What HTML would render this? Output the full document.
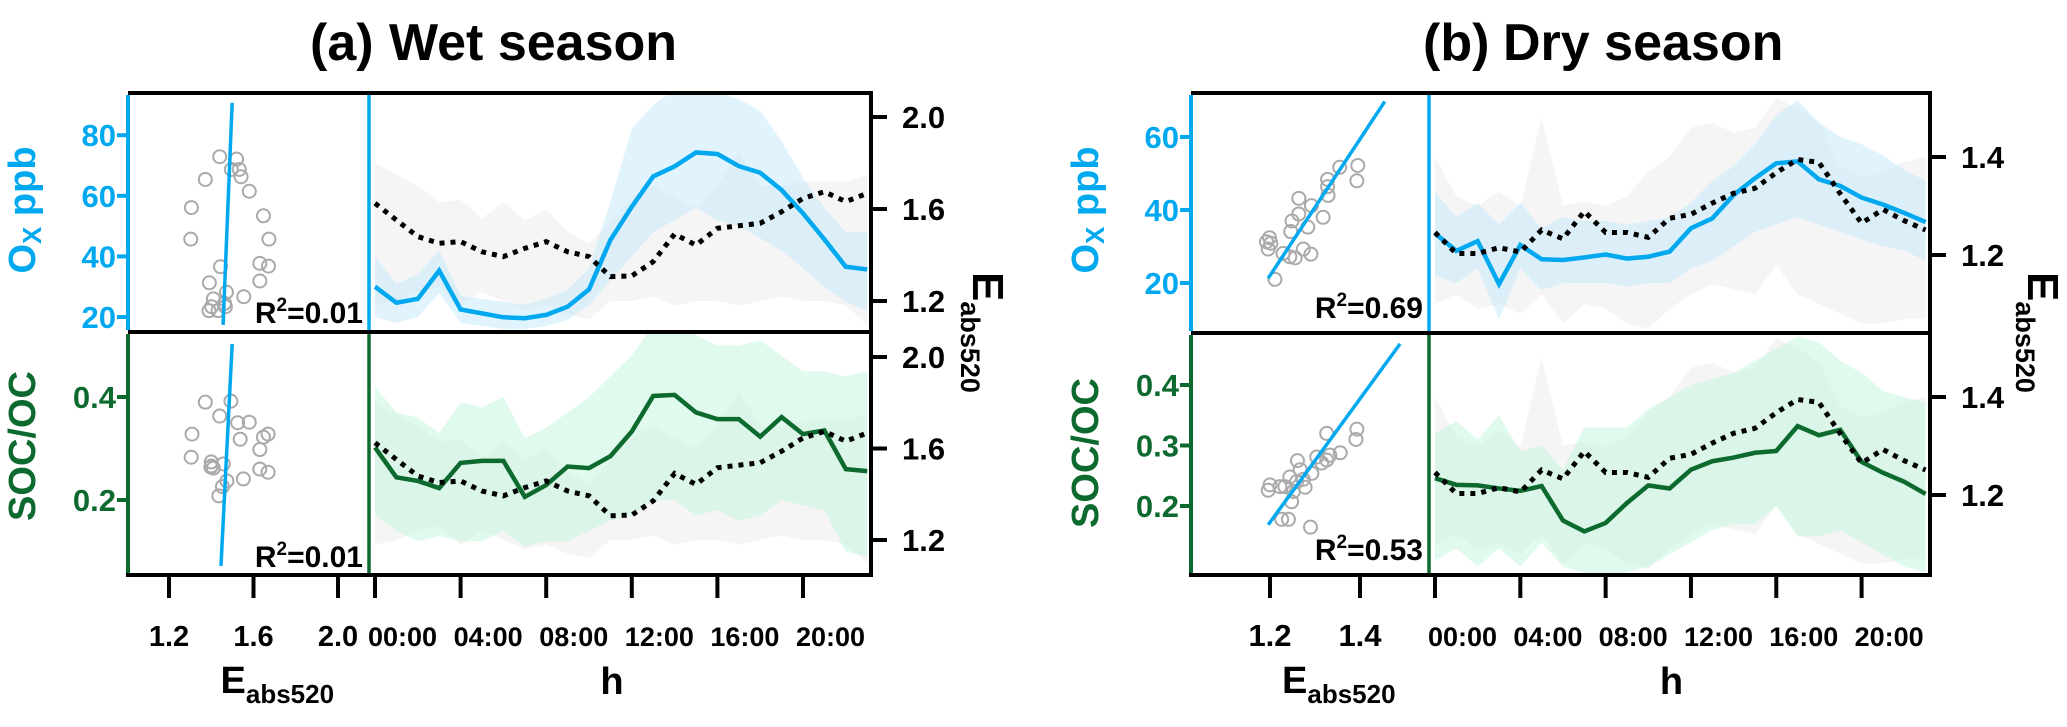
<!DOCTYPE html>
<html><head><meta charset="utf-8"><style>
html,body{margin:0;padding:0;background:#fff;}
svg{display:block;font-family:"Liberation Sans",Arial,sans-serif;}
</style></head><body>
<svg id="chart" width="2067" height="727" viewBox="0 0 2067 727" xmlns="http://www.w3.org/2000/svg">
<defs>
<clipPath id="cA1"><rect x="369" y="93" width="502" height="239"/></clipPath>
<clipPath id="cA2"><rect x="369" y="332" width="502" height="243"/></clipPath>
<clipPath id="cB1"><rect x="1429" y="93" width="501" height="240"/></clipPath>
<clipPath id="cB2"><rect x="1429" y="333" width="501" height="242"/></clipPath>
</defs>
<text x="310" y="60" font-size="52" font-weight="bold">(a)</text>
<text x="389" y="60" font-size="52" font-weight="bold">Wet season</text>
<text x="1423" y="60" font-size="52" font-weight="bold">(b)</text>
<text x="1503" y="60" font-size="52" font-weight="bold">Dry season</text>
</svg>
<script>
const hours = [0,1,2,3,4,5,6,7,8,9,10,11,12,13,14,15,16,17,18,19,20,21,22,23];
const hourTicks = [0,4,8,12,16,20];
const hourTickLabels = ['00:00','04:00','08:00','12:00','16:00','20:00'];

// Wet season
const wetOx = [30.0,24.7,26.0,35.3,22.5,21.2,19.9,19.6,20.7,23.4,29.1,45.4,56.4,66.4,69.7,74.3,73.8,69.8,67.6,61.9,54.2,45.6,36.6,35.7];
const wetOxHi = [40,31,34,42,27,26,25,24,26,29,36,58,82,90,95,96,94,92,88,78,66,56,48,48];
const wetOxLo = [20,18,20,28,18,17,16,16,17,19,24,32,40,48,52,56,52,50,46,42,36,30,25,22];
const wetEabs = [1.625,1.552,1.480,1.451,1.458,1.414,1.393,1.429,1.458,1.414,1.393,1.306,1.309,1.371,1.491,1.443,1.516,1.527,1.538,1.588,1.646,1.675,1.632,1.668];
const wetEabsHi = [1.80,1.75,1.70,1.63,1.64,1.56,1.63,1.55,1.60,1.50,1.45,1.55,1.65,1.70,1.65,1.60,1.70,1.85,1.70,1.70,1.72,1.72,1.72,1.75];
const wetEabsLo = [1.18,1.20,1.24,1.26,1.18,1.24,1.20,1.16,1.18,1.14,1.12,1.20,1.20,1.22,1.18,1.20,1.20,1.18,1.20,1.22,1.20,1.20,1.18,1.10];
const wetSoc = [0.302,0.244,0.237,0.223,0.272,0.276,0.276,0.206,0.229,0.265,0.262,0.285,0.333,0.402,0.404,0.370,0.357,0.357,0.323,0.361,0.328,0.335,0.260,0.256];
const wetSocHi = [0.42,0.37,0.36,0.33,0.39,0.38,0.40,0.32,0.34,0.37,0.40,0.44,0.48,0.54,0.54,0.52,0.50,0.50,0.51,0.48,0.45,0.45,0.44,0.45];
const wetSocLo = [0.17,0.14,0.12,0.13,0.12,0.12,0.14,0.11,0.12,0.12,0.14,0.16,0.17,0.20,0.20,0.17,0.18,0.16,0.17,0.20,0.19,0.18,0.10,0.09];
const wetScatE1 = [1.440,1.520,1.495,1.533,1.541,1.372,1.580,1.306,1.647,1.303,1.673,1.444,1.630,1.671,1.391,1.630,1.472,1.554,1.410,1.463,1.402,1.389,1.432,1.467];
const wetScatOx = [72.9,72.1,68.7,68.7,66.3,65.4,61.5,56.1,53.4,45.7,45.7,36.6,37.7,36.8,31.3,31.9,28.2,26.7,26.0,24.5,23.4,22.1,22.1,23.4];
const wetScatE2 = [1.372,1.493,1.440,1.525,1.580,1.309,1.669,1.647,1.537,1.630,1.305,1.400,1.457,1.398,1.630,1.669,1.552,1.474,1.453,1.436,1.410,1.400];
const wetScatSoc = [0.390,0.392,0.363,0.350,0.351,0.328,0.328,0.322,0.318,0.298,0.283,0.274,0.270,0.264,0.260,0.254,0.241,0.237,0.226,0.208,0.262,0.266];
const wetFitOxE = [1.456,1.499];
const wetFitOx = [17.4,90.7];
const wetFitSocE = [1.446,1.499];
const wetFitSoc = [0.072,0.503];

// Dry season
const dryOx = [33.6,28.8,31.5,19.7,30.4,26.5,26.3,27.0,27.8,26.7,27.2,28.6,35.0,37.7,44.1,48.7,52.8,53.3,48.4,46.6,43.4,41.5,39.2,36.7];
const dryOxHi = [45,38,42,36,42,35,38,37,37,36,37,38,42,48,52,58,66,70,64,60,58,55,51,48];
const dryOxLo = [22,20,24,10,24,18,20,20,20,19,20,20,24,26,30,34,36,38,36,34,32,30,29,26];
const dryEabs = [1.246,1.203,1.203,1.215,1.206,1.251,1.233,1.289,1.246,1.246,1.236,1.275,1.283,1.306,1.326,1.336,1.368,1.395,1.389,1.325,1.265,1.293,1.270,1.251];
const dryEabsHi = [1.40,1.32,1.30,1.33,1.30,1.48,1.30,1.31,1.30,1.32,1.37,1.40,1.46,1.47,1.45,1.46,1.52,1.50,1.47,1.38,1.36,1.37,1.39,1.40];
const dryEabsLo = [1.10,1.12,1.09,1.10,1.08,1.12,1.06,1.10,1.09,1.06,1.05,1.09,1.12,1.14,1.13,1.12,1.18,1.12,1.10,1.08,1.06,1.06,1.07,1.07];
const drySoc = [0.246,0.235,0.234,0.229,0.225,0.233,0.176,0.158,0.172,0.205,0.234,0.229,0.260,0.274,0.280,0.288,0.291,0.332,0.317,0.326,0.273,0.255,0.240,0.220];
const drySocHi = [0.32,0.34,0.31,0.35,0.29,0.30,0.26,0.33,0.33,0.33,0.36,0.38,0.40,0.41,0.42,0.44,0.46,0.48,0.47,0.44,0.42,0.39,0.38,0.37];
const drySocLo = [0.11,0.13,0.10,0.13,0.10,0.14,0.10,0.09,0.09,0.09,0.10,0.12,0.14,0.16,0.17,0.17,0.20,0.15,0.15,0.16,0.14,0.12,0.10,0.09];
const dryScatE1 = [1.395,1.355,1.393,1.328,1.328,1.329,1.264,1.292,1.264,1.249,1.284,1.318,1.246,1.199,1.192,1.202,1.196,1.274,1.229,1.244,1.256,1.291,1.211];
const dryScatOx = [52.2,51.7,48.0,48.4,46.4,44.0,43.2,41.2,38.9,37.0,35.3,38.0,34.1,32.4,31.3,30.9,29.3,29.3,28.1,27.2,26.9,27.9,21.0];
const dryScatE2 = [1.393,1.326,1.391,1.356,1.333,1.326,1.315,1.261,1.244,1.293,1.274,1.259,1.233,1.200,1.196,1.222,1.278,1.252,1.248,1.226,1.241,1.290,1.304,1.267];
const dryScatSoc = [0.327,0.320,0.310,0.288,0.284,0.276,0.271,0.275,0.248,0.254,0.244,0.240,0.232,0.235,0.226,0.232,0.231,0.224,0.207,0.178,0.178,0.165,0.281,0.260];
const dryFitOxE = [1.196,1.455];
const dryFitOx = [21.3,69.7];
const dryFitSocE = [1.196,1.489];
const dryFitSoc = [0.169,0.468];

const wetOxTicks = [20,40,60,80];
const wetSocTicks = [0.2,0.4];
const wetETicks = [1.2,1.6,2.0];
const wetScatTicks = [1.2,1.6,2.0];
const dryOxTicks = [20,40,60];
const drySocTicks = [0.2,0.3,0.4];
const dryETicks = [1.2,1.4];
const dryScatTicks = [1.2,1.4];

const BLUE = '#00a9ef', GREEN = '#0d6a2f';
const svg = document.getElementById('chart');
const NS = 'http://www.w3.org/2000/svg';
function mk(tag, attrs, parent) {
  const e = document.createElementNS(NS, tag);
  for (const k in attrs) e.setAttribute(k, attrs[k]);
  (parent || svg).appendChild(e);
  return e;
}
function line(x1,y1,x2,y2,color,w,name){
  const e = mk('line',{x1:x1,y1:y1,x2:x2,y2:y2,stroke:color,'stroke-width':w});
  
  
  return e;
}
function txt(x,y,s,size,color,anchor,name){
  const e = mk('text',{x:x,y:y,'font-size':size,'font-weight':'bold',fill:color,'text-anchor':anchor});
  e.textContent = s;
  
  
  return e;
}
function band(hx, ys, hi, lo, fill, op, clip, name){
  let d = '';
  hours.forEach((h,i)=>{ d += (i?'L':'M') + hx(h) + ',' + ys(hi[i]); });
  for (let i = hours.length-1; i >= 0; i--) d += 'L' + hx(hours[i]) + ',' + ys(lo[i]);
  const e = mk('path',{d:d+'Z',fill:fill,'fill-opacity':op,'clip-path':'url(#'+clip+')'});
  
  
}
function series(hx, ys, vals, color, w, dash, clip, name){
  const pts = hours.map((h,i)=>hx(h)+','+ys(vals[i])).join(' ');
  const e = mk('polyline',{points:pts,fill:'none',stroke:color,'stroke-width':w,'stroke-linejoin':'miter','clip-path':'url(#'+clip+')'});
  if (dash) e.setAttribute('stroke-dasharray', dash);
  
  
}
function scatter(sx, ys, xs, vs, name){
  xs.forEach((v,i)=>{
    const c = mk('circle',{cx:sx(v),cy:ys(vs[i]),r:6.5,fill:'none',stroke:'#aaaaaa','stroke-width':2});
    
    
  });
}
function fit(sx, ys, xs, vs, name){
  line(sx(xs[0]),ys(vs[0]),sx(xs[1]),ys(vs[1]),BLUE,3.5,name);
}

function panel(P){
  band(P.hx,P.eTop,P.eHi,P.eLo,'#ececec',0.55,P.c1,P.id+'-eabs-band-top');
  band(P.hx,P.oy,P.oxHi,P.oxLo,'#c4e9fb',0.5,P.c1,P.id+'-ox-band');
  series(P.hx,P.oy,P.ox,BLUE,4.5,null,P.c1,P.id+'-ox-line');
  series(P.hx,P.eTop,P.e,'#000',5,'5 6',P.c1,P.id+'-eabs-line-top');
  band(P.hx,P.eBot,P.eHi,P.eLo,'#ececec',0.55,P.c2,P.id+'-eabs-band-bottom');
  band(P.hx,P.sy,P.socHi,P.socLo,'#c2f5dc',0.5,P.c2,P.id+'-soc-band');
  series(P.hx,P.sy,P.soc,GREEN,4.5,null,P.c2,P.id+'-soc-line');
  series(P.hx,P.eBot,P.e,'#000',5,'5 6',P.c2,P.id+'-eabs-line-bottom');
  scatter(P.sx,P.oy,P.sE1,P.sOx,P.id+'-scatter-ox-point');
  fit(P.sx,P.oy,P.fOxE,P.fOx,P.id+'-fit-ox');
  scatter(P.sx,P.sy,P.sE2,P.sSoc,P.id+'-scatter-soc-point');
  fit(P.sx,P.sy,P.fSocE,P.fSoc,P.id+'-fit-soc');
  line(P.X0,P.Y0,P.X1+2,P.Y0,'#000',4,P.id+'-top-border');
  line(P.X0,P.Ym,P.X1,P.Ym,'#000',4,P.id+'-middle-border');
  line(P.X0-2,P.Y1,P.X1+2,P.Y1,'#000',4,P.id+'-x-axis');
  line(P.X1,P.Y0,P.X1,P.Y1+2,'#000',4,P.id+'-right-axis');
  line(P.X0,P.Y0+2,P.X0,P.Ym-2,BLUE,4,P.id+'-ox-axis');
  line(P.X0,P.Ym+2,P.X0,P.Y1-2,GREEN,4,P.id+'-soc-axis');
  line(P.Xd,P.Y0+2,P.Xd,P.Ym-2,BLUE,3.5,P.id+'-divider-top');
  line(P.Xd,P.Ym+2,P.Xd,P.Y1-2,GREEN,3.5,P.id+'-divider-bottom');
  P.oxTicks.forEach(v=>{ const y=P.oy(v); line(P.X0-11,y,P.X0,y,BLUE,4,P.id+'-ox-tick'); txt(P.X0-12,y+11,String(v),31,BLUE,'end',P.id+'-ox-tick-label'); });
  P.socTicks.forEach(v=>{ const y=P.sy(v); line(P.X0-11,y,P.X0,y,GREEN,4,P.id+'-soc-tick'); txt(P.X0-12,y+11,v.toFixed(1),31,GREEN,'end',P.id+'-soc-tick-label'); });
  P.eTicks.forEach(v=>{
    let y=P.eTop(v); line(P.X1,y,P.X1+16,y,'#000',4,P.id+'-eabs-tick-top'); txt(P.X1+31,y+11,v.toFixed(1),31,'#000','start',P.id+'-eabs-tick-label-top');
    y=P.eBot(v); line(P.X1,y,P.X1+16,y,'#000',4,P.id+'-eabs-tick-bottom'); txt(P.X1+31,y+11,v.toFixed(1),31,'#000','start',P.id+'-eabs-tick-label-bottom');
  });
  P.scatTicks.forEach(v=>{ const x=P.sx(v); line(x,P.Y1,x,P.Y1+23,'#000',4,P.id+'-scatter-x-tick'); txt(x,646,v.toFixed(1),P.scatFont,'#000','middle',P.id+'-scatter-x-tick-label'); });
  hourTicks.forEach((h,i)=>{ const x=P.hx(h); line(x,P.Y1,x,P.Y1+23,'#000',4,P.id+'-hour-tick'); txt(x-7,646,hourTickLabels[i],P.hourFont,'#000','start',P.id+'-hour-tick-label'); });
  txt(P.Xd-6,P.r2y1,'',30,'#000','end',P.id+'-r2-ox').innerHTML='R<tspan dy="-12" font-size="19">2</tspan><tspan dy="12">='+P.r2a+'</tspan>';
  txt(P.Xd-6,P.r2y2,'',30,'#000','end',P.id+'-r2-soc').innerHTML='R<tspan dy="-12" font-size="19">2</tspan><tspan dy="12">='+P.r2b+'</tspan>';
  const oxl = txt(0,0,'',38,BLUE,'middle',P.id+'-ox-axis-title');
  oxl.setAttribute('transform','translate('+(P.labX+13)+',210) rotate(-90)');
  oxl.innerHTML='O<tspan font-size="26" dy="6">X</tspan><tspan dy="-6"> ppb</tspan>';
  const sl = txt(0,0,'SOC/OC',38,GREEN,'middle',P.id+'-soc-axis-title');
  sl.setAttribute('transform','translate('+(P.labX+13)+','+P.socLabY+') rotate(-90)');
  const el = txt(0,0,'',44,'#000','start',P.id+'-eabs-right-title');
  el.setAttribute('transform','translate('+P.eLabX+',272) rotate(90)');
  el.innerHTML='E<tspan font-size="27" dy="12">abs520</tspan>';
  const bx = txt((P.X0+P.Xd)/2-28,693,'',38,'#000','start',P.id+'-scatter-x-title');
  bx.innerHTML='E<tspan font-size="26" dy="10">abs520</tspan>';
  txt((P.Xd+P.X1)/2-8,694,'h',38,'#000','middle',P.id+'-hour-axis-title');
}

panel({id:'wet',X0:128,Xd:369,X1:871,Y0:93,Ym:332,Y1:575,c1:'cA1',c2:'cA2',
  sx:v=>169+(v-1.2)*211.25, hx:h=>375+h*21.4, oy:v=>317-(v-20)*3.03, sy:v=>500-(v-0.2)*515,
  eTop:v=>301-(v-1.2)*230, eBot:v=>540-(v-1.2)*228.75,
  ox:wetOx,oxHi:wetOxHi,oxLo:wetOxLo,e:wetEabs,eHi:wetEabsHi,eLo:wetEabsLo,soc:wetSoc,socHi:wetSocHi,socLo:wetSocLo,
  sE1:wetScatE1,sOx:wetScatOx,sE2:wetScatE2,sSoc:wetScatSoc,fOxE:wetFitOxE,fOx:wetFitOx,fSocE:wetFitSocE,fSoc:wetFitSoc,
  oxTicks:wetOxTicks,socTicks:wetSocTicks,eTicks:wetETicks,scatTicks:wetScatTicks,
  r2a:'0.01',r2b:'0.01',r2y1:323,r2y2:567,labX:22,socLabY:446,eLabX:973,hourFont:27,scatFont:29});
panel({id:'dry',X0:1191,Xd:1429,X1:1930,Y0:93,Ym:333,Y1:575,c1:'cB1',c2:'cB2',
  sx:v=>1270+(v-1.2)*450, hx:h=>1435+h*21.33, oy:v=>283-(v-20)*3.65, sy:v=>506-(v-0.2)*605,
  eTop:v=>255-(v-1.2)*490, eBot:v=>495-(v-1.2)*490,
  ox:dryOx,oxHi:dryOxHi,oxLo:dryOxLo,e:dryEabs,eHi:dryEabsHi,eLo:dryEabsLo,soc:drySoc,socHi:drySocHi,socLo:drySocLo,
  sE1:dryScatE1,sOx:dryScatOx,sE2:dryScatE2,sSoc:dryScatSoc,fOxE:dryFitOxE,fOx:dryFitOx,fSocE:dryFitSocE,fSoc:dryFitSoc,
  oxTicks:dryOxTicks,socTicks:drySocTicks,eTicks:dryETicks,scatTicks:dryScatTicks,
  r2a:'0.69',r2b:'0.53',r2y1:318,r2y2:560,labX:1085,socLabY:453,eLabX:2028,hourFont:27,scatFont:31});
</script>
</body></html>
